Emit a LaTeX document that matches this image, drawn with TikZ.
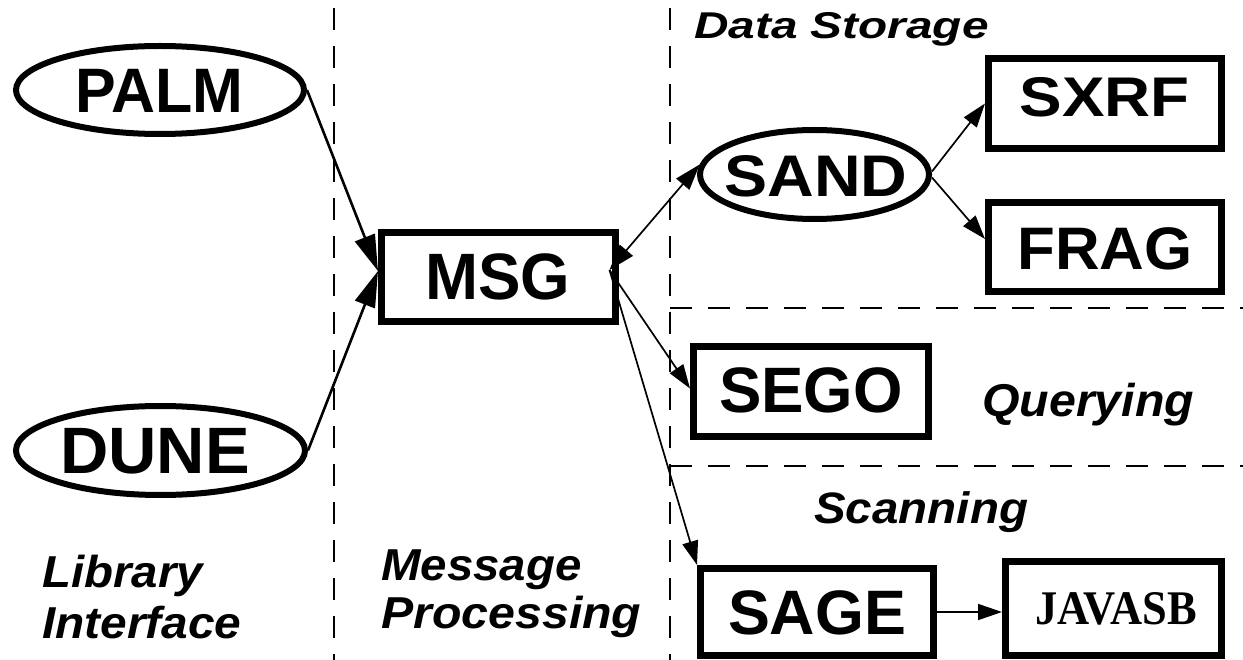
\documentclass[tikz,border=0pt]{standalone}
\usepackage{fontspec}
\setmainfont{Liberation Sans}
\newfontfamily\serifbf{Liberation Serif}
\usepackage{graphicx}
\usetikzlibrary{shapes.geometric,arrows.meta}
\newcommand{\txt}[3]{{\fontsize{#1pt}{#1pt}\selectfont\scalebox{#2}[1]{#3}}}
\begin{document}
\begin{tikzpicture}[x=1pt,y=-1pt,
  box/.style={draw, rectangle, line width=7pt, inner sep=0pt},
  oval/.style={draw, ellipse, line width=6pt, inner sep=0pt},
  word/.style={inner sep=0pt, font=\bfseries},
  tag/.style={inner sep=0pt, anchor=base west, font=\bfseries\itshape},
  sep/.style={line width=1.8pt, dash pattern=on 22pt off 16pt},
  conn/.style={line width=1.7pt, -{Triangle[length=24pt,width=16pt]}},
  dconn/.style={line width=1.7pt, {Triangle[length=26pt,width=17pt]}-{Triangle[length=26pt,width=17pt]}},
  bigconn/.style={line width=2.6pt, -{Triangle[length=36pt,width=21pt]}}]
\useasboundingbox (0,0) rectangle (1243,660);

% separators
\draw[sep] (334,8) -- (334,660);
\draw[sep] (670,8) -- (670,660);
\draw[sep] (670,308) -- (1243,308);
\draw[sep] (670,466) -- (1243,466);

% shapes
\node[oval, minimum width=288pt, minimum height=88pt] (PALM) at (160,90) {};
\node[oval, minimum width=289pt, minimum height=89pt] (DUNE) at (160.5,450.5) {};
\node[oval, minimum width=229pt, minimum height=89pt] (SAND) at (814.5,174.5) {};
\node[box, minimum width=234pt, minimum height=89pt] (MSG) at (498.5,277) {};
\node[box, minimum width=233pt, minimum height=90pt] (SXRF) at (1105,103.5) {};
\node[box, minimum width=233pt, minimum height=89pt] (FRAG) at (1105,247) {};
\node[box, minimum width=235pt, minimum height=90pt] (SEGO) at (811,391.5) {};
\node[box, minimum width=233pt, minimum height=87pt] (SAGE) at (817,612) {};
\node[box, minimum width=216pt, minimum height=94pt] (JAVASB) at (1113.5,608.5) {};

% node texts
\node[word] (PALMt) at (159.5,90.5) {\txt{62.8}{0.97}{PALM}};
\node[word] (DUNEt) at (155,451.5) {\txt{65.6}{1.02}{DUNE}};
\node[word] (MSGt) at (498,276.5) {\txt{65.6}{0.97}{MSG}};
\node[word] (SANDt) at (816,176) {\txt{58.7}{1.1}{SAND}};
\node[word] (SXRFt) at (1104.5,97) {\txt{55.9}{1.14}{SXRF}};
\node[word] (FRAGt) at (1105,248.5) {\txt{60}{1.03}{FRAG}};
\node[word] (SEGOt) at (811,390) {\txt{64.2}{0.99}{SEGO}};
\node[word] (SAGEt) at (817,612.5) {\txt{62.8}{1.0}{SAGE}};
\node[inner sep=0pt] (JAVASBt) at (1116,609) {\serifbf\bfseries\txt{48.3}{0.92}{JAVASB}};

% region labels
\node[tag] (lDS) at (694,39) {\txt{37.3}{1.28}{Data Storage}};
\node[tag] (lQ) at (982,417) {\txt{46}{1.05}{Querying}};
\node[tag] (lS) at (814,523) {\txt{44}{1.08}{Scanning}};
\node[tag] (lL1) at (42,587) {\txt{44.7}{1.06}{Library}};
\node[tag] (lL2) at (42,638) {\txt{44.7}{1.07}{Interface}};
\node[tag] (lM1) at (381,580) {\txt{44.7}{1.06}{Message}};
\node[tag] (lM2) at (381,628) {\txt{44.7}{1.08}{Processing}};

% connectors
\coordinate (mr) at ([shift={(-9.5,-7)}]MSG.east);
\draw[bigconn] (PALM.east) -- ([yshift=6pt]MSG.west);
\draw[bigconn] (DUNE.east) -- ([yshift=6pt]MSG.west);
\draw[dconn] (mr) -- (SAND.175);
\draw[conn] ([yshift=3pt]SAND.east) -- (SXRF.west);
\draw[conn] ([yshift=-3pt]SAND.east) -- ([yshift=8pt]FRAG.west);
\draw[conn] (mr) -- ([yshift=3pt]SEGO.west);
\draw[conn] (mr) -- (SAGE.north west);
\draw[conn] (SAGE.east) -- (SAGE.east -| JAVASB.west);
\end{tikzpicture}
\end{document}
